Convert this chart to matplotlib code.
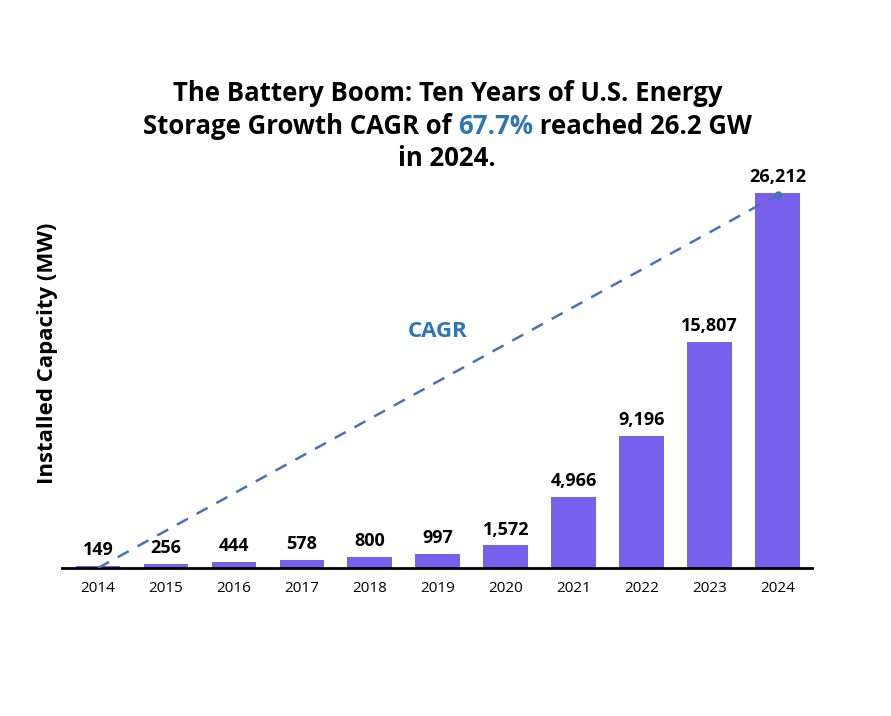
import matplotlib.pyplot as plt
import numpy as np

years = ["2014", "2015", "2016", "2017", "2018", "2019", "2020", "2021", "2022", "2023", "2024"]
capacity_mw = [149, 256, 444, 578, 800, 997, 1572, 4966, 9196, 15807, 26212]
cagr_label = "67.7%"

plt.rcParams["font.family"] = ["Open Sans", "DejaVu Sans"]

fig = plt.figure(figsize=(8.91, 7.16), dpi=100)
ax = fig.add_axes([0.0696, 0.2067, 0.8414, 0.5838])

x = np.arange(len(years))
bars = ax.bar(x, capacity_mw, width=0.66, color="#7660EC", zorder=2)

for xi, v in zip(x, capacity_mw):
    ax.annotate(f"{v:,}", (xi, v), xytext=(0, 5), textcoords="offset points",
                ha="center", va="bottom", fontsize=13, fontweight="bold")

# CAGR trend line from first to last year
ax.plot([x[0], x[-1]], [0, capacity_mw[-1] - 150], linestyle="--", color="#4A72B8",
        linewidth=1.8, dashes=(5, 4), zorder=3)
ax.plot([x[-1]], [capacity_mw[-1] - 150], marker="o", markersize=5, color="#4A72B8", zorder=3)
ax.text(5.0, 16500, "CAGR", color="#2E75B6", fontsize=16, fontweight="bold",
        ha="center", va="center")

ax.set_xlim(-0.53, 10.5)
ax.set_ylim(0, 29200)
ax.set_xticks(x)
ax.set_xticklabels(years, fontsize=11)
ax.tick_params(axis="x", length=0, pad=9)
ax.set_yticks([])
for s in ["top", "right", "left"]:
    ax.spines[s].set_visible(False)
ax.spines["bottom"].set_linewidth(2)
ax.set_ylabel("Installed Capacity (MW)", fontsize=16, fontweight="bold")
ax.yaxis.set_label_coords(-0.006, 0.514)

# title, with the CAGR value in blue
title_kw = dict(fontsize=18.5, fontweight="bold", ha="center", va="center")
fig.text(0.502, 0.869, "The Battery Boom: Ten Years of U.S. Energy", **title_kw)
fig.text(0.502, 0.779, "in 2024.", **title_kw)

parts = [("Storage Growth CAGR of ", "black"), (cagr_label, "#2E75B6"), (" reached 26.2 GW", "black")]
fig.canvas.draw()
renderer = fig.canvas.get_renderer()
texts = []
for s, c in parts:
    t = fig.text(0, 0.824, s, color=c, fontsize=18.5, fontweight="bold", ha="left", va="center")
    texts.append(t)
widths = [t.get_window_extent(renderer).width for t in texts]
total = sum(widths)
start = 0.502 * fig.bbox.width - total / 2
for t, w in zip(texts, widths):
    t.set_x(start / fig.bbox.width)
    start += w

fig.savefig("out.png", dpi=100)
